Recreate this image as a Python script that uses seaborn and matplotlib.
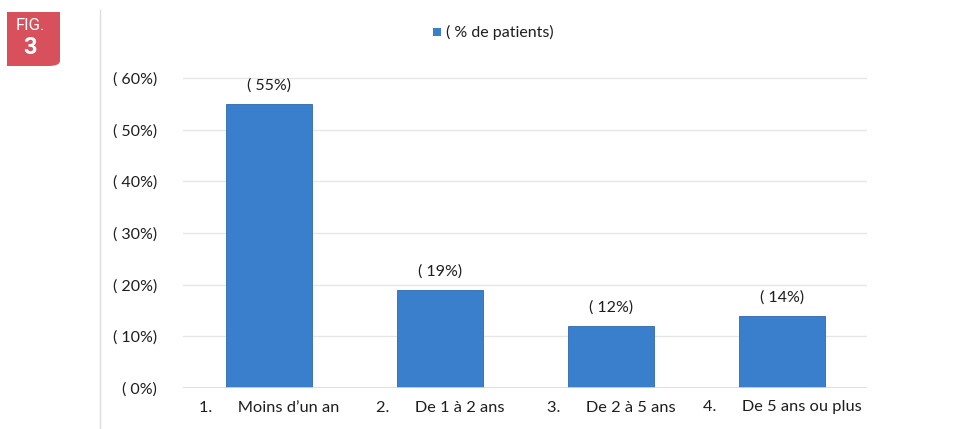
import matplotlib
matplotlib.use("Agg")
import matplotlib.pyplot as plt
from matplotlib.patches import FancyBboxPatch, Rectangle
from matplotlib.lines import Line2D
import seaborn as sns
import pandas as pd

categories = ["1.      Moins d\u2019un an", "2.      De 1 \u00e0 2 ans",
              "3.      De 2 \u00e0 5 ans", "4.      De 5 ans ou plus"]
values = [55, 19, 12, 14]
y_ticks = [0, 10, 20, 30, 40, 50, 60]
series_name = "( % de patients)"

sns.set_theme(style="white")
plt.rcParams["font.family"] = ["Lato", "DejaVu Sans"]

W, H = 979, 429
fig = plt.figure(figsize=(W / 100, H / 100), dpi=100)
fig.patch.set_facecolor("white")

# axes placed in pixel units
left, right, top, bottom = 183.5, 867.5, 78 - 25, 388
ax = fig.add_axes([left / W, 1 - bottom / H, (right - left) / W, (bottom - top) / H])

df = pd.DataFrame({"cat": categories, "val": values})
bar_color = "#3a7fcb"
sns.barplot(data=df, x="cat", y="val", color=bar_color, width=0.5,
            saturation=1, ax=ax, edgecolor="#2f69ad", linewidth=0.6)

ax.set_ylim(0, 60 * (bottom - top) / (bottom - 78))
ax.set_xlim(-0.5, len(categories) - 0.5)
ax.set_yticks(y_ticks)
ax.set_yticklabels([f"( {t}%)" for t in y_ticks], fontsize=11.5, color="#1e1e1e")
ax.tick_params(axis="y", length=0, pad=19)
ax.tick_params(axis="x", length=0, pad=9, labelsize=11.8, labelcolor="#1e1e1e")
ax.set_xlabel("")
ax.set_ylabel("")
for t in y_ticks[1:]:
    ax.axhline(t, color="#e6e6e6", lw=1.0, zorder=0)
ax.axhline(0, color="#d9d9d9", lw=1.2, zorder=3)
for s in ax.spines.values():
    s.set_visible(False)
ax.set_facecolor("white")

for i, v in enumerate(values):
    ax.text(i, v + 2.2, f"( {v}%)", ha="center", va="bottom", fontsize=11.5, color="#1e1e1e")

# legend entry at the top
fig.patches.append(Rectangle((433 / W, 1 - 36 / H), 8 / W, 8 / H,
                             transform=fig.transFigure, facecolor=bar_color,
                             edgecolor="none"))
fig.text(446 / W, 1 - 32 / H, series_name, ha="left", va="center",
         fontsize=11.5, color="#1e1e1e")

# thin separator line left of the chart
fig.add_artist(Line2D([100 / W, 100 / W], [0, 1 - 10 / H], transform=fig.transFigure,
                      color="#dcdcdc", lw=1.0))

# figure number badge
badge = FancyBboxPatch((7 / W, 1 - 66 / H), 53 / W, 54 / H,
                       boxstyle="round,pad=0,rounding_size=0.012",
                       transform=fig.transFigure, facecolor="#d8505b", edgecolor="none")
fig.patches.append(badge)
fig.patches.append(Rectangle((7 / W, 1 - 66 / H), 25 / W, 54 / H,
                             transform=fig.transFigure, facecolor="#d8505b", edgecolor="none"))
fig.patches.append(Rectangle((7 / W, 1 - 40 / H), 53 / W, 28 / H,
                             transform=fig.transFigure, facecolor="#d8505b", edgecolor="none"))
fig.text(30 / W, 1 - 25 / H, "FIG.", ha="center", va="center", fontsize=12,
         color="white", family=["Roboto", "DejaVu Sans"], fontstretch="condensed")
fig.text(30 / W, 1 - 48 / H, "3", ha="center", va="center", fontsize=17,
         color="white", fontweight="bold", family=["Roboto", "DejaVu Sans"])

fig.savefig("out.png", dpi=100)
